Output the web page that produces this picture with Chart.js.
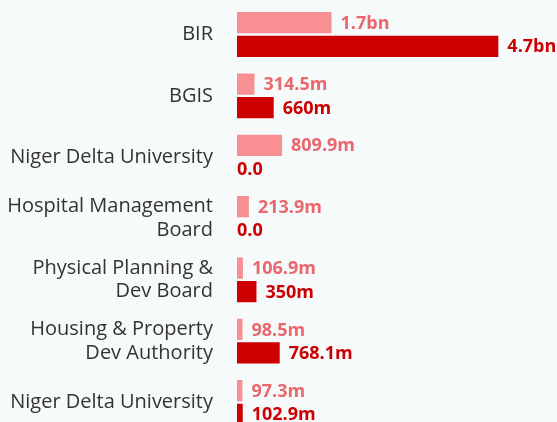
<!DOCTYPE html>
<html>
<head>
<meta charset="utf-8">
<script src="https://cdn.jsdelivr.net/npm/chart.js@4"></script>
<style>
  html, body { margin: 0; padding: 0; background: #f7fafb; overflow: hidden; }
  #wrap { width: 557px; height: 422px; overflow: hidden; }
  #box { position: relative; width: 557px; height: 453px; margin-top: -8px; }
</style>
</head>
<body>
<div id="wrap"><div id="box"><canvas id="chart"></canvas></div></div>
<script>
// agencies, top to bottom
const agencies = [
    'BIR',
    'BGIS',
    'Niger Delta University',
    ['Hospital Management', 'Board'],
    ['Physical Planning &', 'Dev Board'],
    ['Housing & Property', 'Dev Authority'],
    'Niger Delta University'
];

// values in millions of naira
const previousValues = [1700, 314.5, 809.9, 213.9, 106.9, 98.5, 97.3];
const currentValues = [4700, 660, 0, 0, 350, 768.1, 102.9];

const lightColor = '#f78f93';
const lightText = '#e8686e';
const darkColor = '#cc0000';

function fmt(v) {
    if (v === 0) return '0.0';
    if (v >= 1000) return (v / 1000).toFixed(1) + 'bn';
    return +v.toFixed(1) + 'm';
}

// draws the value next to each bar end
const valueLabels = {
    id: 'valueLabels',
    afterDatasetsDraw(chart) {
        const ctx = chart.ctx;
        ctx.save();
        ctx.font = 'bold 18px "Open Sans"';
        ctx.textAlign = 'left';
        ctx.textBaseline = 'middle';
        chart.data.datasets.forEach((ds, i) => {
            const meta = chart.getDatasetMeta(i);
            ctx.fillStyle = i === 0 ? lightText : darkColor;
            meta.data.forEach((bar, j) => {
                const v = ds.data[j];
                const off = v > 0 ? 9 : 0;
                ctx.fillText(fmt(v), bar.x + off, bar.y + 1);
            });
        });
        ctx.restore();
    }
};

new Chart(document.getElementById('chart'), {
    type: 'bar',
    data: {
        labels: agencies,
        datasets: [
            { label: 'Previous', data: previousValues, backgroundColor: lightColor },
            { label: 'Current', data: currentValues, backgroundColor: darkColor }
        ]
    },
    options: {
        indexAxis: 'y',
        responsive: true,
        maintainAspectRatio: false,
        animation: false,
        categoryPercentage: 0.77,
        barPercentage: 0.9,
        layout: { padding: 0 },
        plugins: { legend: { display: false }, tooltip: { enabled: false } },
        scales: {
            x: { display: false, min: 0, max: 5755 },
            y: {
                afterFit(scale) { scale.width = 237; },
                // hidden tick marks only push the labels away from the bars
                grid: { display: false, drawTicks: true, tickLength: 24 },
                border: { display: false },
                ticks: {
                    padding: 0,
                    color: '#333333',
                    font: { family: '"Open Sans"', size: 20, lineHeight: 1.18 }
                }
            }
        }
    },
    plugins: [valueLabels]
});
</script>
</body>
</html>
